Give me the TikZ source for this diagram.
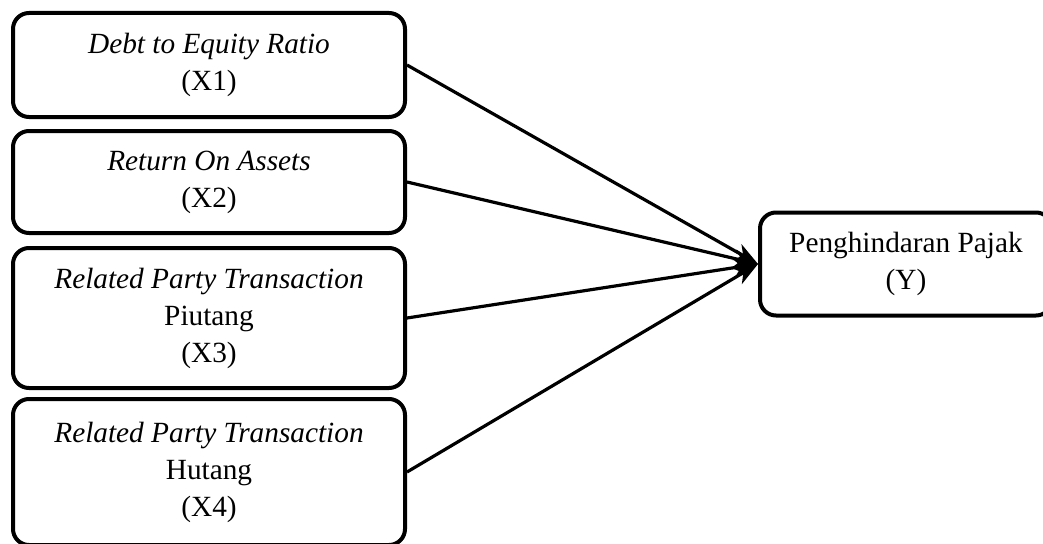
\documentclass[tikz,border=0pt]{standalone}
\usepackage{fontspec}
\setmainfont{Liberation Serif}
\usetikzlibrary{arrows.meta}
\begin{document}
\begin{tikzpicture}[x=1pt,y=-1pt,
  varbox/.style={draw=black, line width=4pt, rounded corners=16pt,
    inner sep=0pt, align=center,
    font=\fontsize{29.3}{37}\selectfont},
  link/.style={line width=3.2pt, -{Stealth[length=24pt,width=18pt,inset=7pt]}}]
  \useasboundingbox (0,0) rectangle (1043,543);
  % independent variables
  \node[varbox, minimum width=392pt, minimum height=104pt] (x1) at (209,65)
    {\textit{Debt to Equity Ratio}\\(X1)};
  \node[varbox, minimum width=392pt, minimum height=102pt] (x2) at (209,182)
    {\textit{Return On Assets}\\(X2)};
  \node[varbox, minimum width=392pt, minimum height=140pt] (x3) at (209,318)
    {\textit{Related Party Transaction}\\Piutang\\(X3)};
  \node[varbox, minimum width=392pt, minimum height=146pt] (x4) at (209,472)
    {\textit{Related Party Transaction}\\Hutang\\(X4)};
  % dependent variable
  \node[varbox, minimum width=292pt, minimum height=103pt, anchor=west] (y) at (758,264)
    {Penghindaran Pajak\\(Y)};
  % paths
  \draw[link] (x1.east) -- (y.west);
  \draw[link] (x2.east) -- (y.west);
  \draw[link] (x3.east) -- (y.west);
  \draw[link] (x4.east) -- (y.west);
\end{tikzpicture}
\end{document}
